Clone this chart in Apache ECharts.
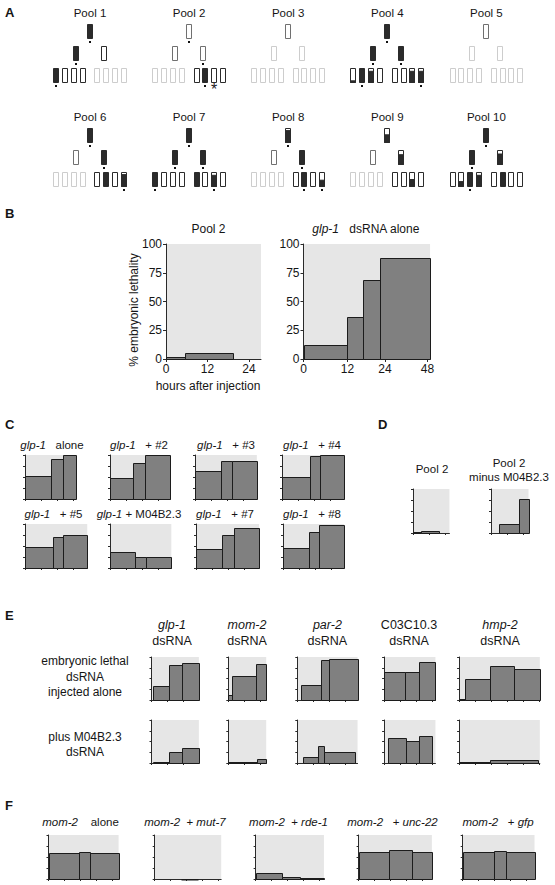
<!DOCTYPE html>
<html><head><meta charset="utf-8">
<script src="https://cdn.jsdelivr.net/npm/echarts@6/dist/echarts.min.js"></script>
<style>html,body{margin:0;padding:0;background:#fff}#c{width:555px;height:885px}</style>
</head><body><div id="c"></div>
<script>
// ---------- Panel A: pedigree of pools (fill fraction per node: -1 faded, -0.5 grey outline, 0..1 filled part)
const poolNames = ['Pool 1','Pool 2','Pool 3','Pool 4','Pool 5','Pool 6','Pool 7','Pool 8','Pool 9','Pool 10'];
const poolFill = [
  [1, 1, 0, 1, 0, 0, 0, -1, -1, -1, -1],
  [-0.5, -0.5, -0.5, -1, -1, -1, -1, 0, 1, 0, 0],
  [-0.5, -1, -1, -1, -1, -1, -1, -1, -1, -1, -1],
  [1, 1, 1, 0.12, 1, 0.8, 0, 0, 0, 0.8, 0.8],
  [-0.5, -1, -1, -1, -1, -1, -1, -1, -1, -1, -1],
  [1, -0.5, 1, -1, -1, -1, -1, 0, 1, 0, 0.85],
  [1, 1, 1, 1, 0, 0, 0, 1, 0, 0.8, 0],
  [0.85, -0.5, 1, -1, -1, -1, -1, 0, 1, 0, 0.45],
  [0.55, -0.5, 0.7, -1, -1, -1, -1, 0, 0, 0.5, 0],
  [1, 1, 0.75, 0, 0.35, 1, 0.8, 0, 1, 0, 0]
];
// 1 = dot below node, 2 = asterisk below node
const poolMark = [
  [1, 1, 0, 1, 0, 0, 0, 0, 0, 0, 0],
  [1, 0, 1, 0, 0, 0, 0, 0, 1, 2, 0],
  [0, 0, 0, 0, 0, 0, 0, 0, 0, 0, 0],
  [1, 1, 1, 0, 1, 0, 0, 0, 0, 0, 1],
  [0, 0, 0, 0, 0, 0, 0, 0, 0, 0, 0],
  [1, 0, 1, 0, 0, 0, 0, 0, 0, 0, 1],
  [1, 1, 1, 1, 0, 0, 0, 0, 0, 1, 0],
  [1, 0, 1, 0, 0, 0, 0, 0, 1, 0, 1],
  [0, 0, 0, 0, 0, 0, 0, 0, 0, 0, 0],
  [1, 1, 0, 0, 0, 1, 0, 0, 0, 0, 0]
];

// ---------- Panel B
const yTickValues = [0, 25, 50, 75, 100];
const bTickHours = [0, 12, 24, 48];
const bPool2Edges = [0, 5.6, 19.4];
const bPool2Vals = [1.7, 5.2];
const bGlp1Edges = [0, 12, 17, 22.5, 49.5];
const bGlp1Vals = [12.4, 36.5, 69, 87.6];

// ---------- Panel C
const cTitles = ['{i|glp-1}   alone', '{i|glp-1}   + #2', '{i|glp-1}   + #3', '{i|glp-1}   + #4',
                 '{i|glp-1}   + #5', '{i|glp-1} + M04B2.3', '{i|glp-1}   + #7', '{i|glp-1}   + #8'];
const cEdges = [
  [0, 19.9, 28.7, 38.0], [0, 17.3, 26.1, 45.3], [0, 19.2, 28.0, 46.5], [0, 21.3, 28.8, 46.6],
  [0, 20.8, 28.5, 46.8], [0, 18.6, 27.4, 46.1], [0, 19.9, 28.4, 47.4], [0, 19.9, 27.1, 45.8]
];
const cVals = [
  [53, 92, 100], [47, 81, 100], [64, 87, 87], [50, 98, 100],
  [48, 71, 76], [36, 24, 24], [43, 76, 92], [46, 81, 98]
];
const cMax = [38.0, 45.3, 46.5, 46.6, 46.8, 46.1, 47.4, 45.8];

// ---------- Panel D
const dTitles = ['Pool 2', 'Pool 2\nminus M04B2.3'];
const dEdges = [[0, 6.1, 19.9], [6.1, 20.8, 28.2]];
const dVals = [[2, 5], [21, 78]];
const dMax = [27.4, 28.2];

// ---------- Panel E
const eGenes = ['{i|glp-1}', '{i|mom-2}', '{i|par-2}', 'C03C10.3', '{i|hmp-2}'];
const eRowLabels = ['embryonic lethal\ndsRNA\ninjected alone', 'plus M04B2.3\ndsRNA'];
const eAloneEdges = [[1.35, 13.3, 23.2, 35.6], [0, 2.7, 20.5, 28.5], [2.7, 18.1, 23.5, 45.3], [0, 15.9, 26.1, 38.6], [0, 4.8, 22.9, 41.5, 60.7]];
const eAloneVals = [[33, 82, 87], [12, 56, 83], [34, 92, 96], [64, 64, 88], [2, 48, 78, 73]];
const ePlusEdges = [[1.35, 13.3, 23.2, 35.6], [0, 21.3, 28.5], [4.1, 15.2, 20.0, 43.4], [3.2, 16.5, 26.6, 35.9], [0, 23.5, 59.3]];
const ePlusVals = [[3, 25, 35], [1.5, 9], [15, 40, 26], [57, 51, 63], [2, 8]];
const eMax = [35.6, 28.5, 45.3, 38.6, 60.7];

// ---------- Panel F
const fTitles = ['{i|mom-2}    alone', '{i|mom-2}  + {i|mut-7}', '{i|mom-2}  + {i|rde-1}', '{i|mom-2}   + {i|unc-22}', '{i|mom-2}   + {i|gfp}'];
const fEdges = [[0, 23.2, 31.1, 52.7], [19.4, 32.7], [0, 19.9, 33.5, 51.4], [0, 22.6, 40.5, 55.1], [0, 23.9, 32.7, 54.0]];
const fVals = [[58, 62, 59], [0.5], [13, 4, 3], [61, 65, 61], [61, 64, 61]];
const fMax = [52.7, 50, 51.4, 55.1, 54.0];

// =====================================================================
const FONT = '"Liberation Sans", Arial, Helvetica, sans-serif';
const INK = '#151515';
const grids = [], xAxes = [], yAxes = [], series = [], graphics = [];

function txt(x, y, text, size, opt) {
  opt = opt || {};
  graphics.push({
    type: 'text', x: x, y: y, rotation: opt.rot || 0, silent: true, z: 10,
    style: {
      text: text, fontSize: size, fontFamily: FONT, fontWeight: opt.bold ? 'bold' : 'normal',
      fill: INK, align: opt.align || 'center', verticalAlign: 'middle',
      textAlign: opt.align || 'center', textVerticalAlign: 'middle',
      lineHeight: opt.lh || Math.round(size * 1.35),
      rich: { i: { fontStyle: 'italic', fontSize: size, fontFamily: FONT, fill: INK } }
    }
  });
}

function ticksUpTo(max, step) { const r = []; for (let v = 0; v <= max + 1e-6; v += step) r.push(v); return r; }

function addHist(o) {
  const gi = grids.length;
  const map = o.map || (v => v);
  grids.push({ left: o.left, top: o.top, width: o.width, height: o.height, show: true,
               backgroundColor: '#e6e6e6', borderWidth: 0 });
  const axisLine = { show: true, onZero: false, lineStyle: { color: '#2a2a2a', width: 1 } };
  xAxes.push({
    type: 'value', gridIndex: gi, min: 0, max: o.max, splitLine: { show: false },
    axisLine: axisLine,
    axisTick: { show: true, length: o.tickLen, customValues: o.xTicks, lineStyle: { color: '#2a2a2a' } },
    axisLabel: o.xLabels ? { show: true, customValues: o.xTicks, formatter: o.xFmt, fontSize: 12,
                             fontFamily: FONT, color: INK, margin: 4 } : { show: false }
  });
  yAxes.push({
    type: 'value', gridIndex: gi, min: 0, max: 100, interval: 25, splitLine: { show: false },
    axisLine: axisLine,
    axisTick: { show: true, length: o.tickLen, customValues: yTickValues, lineStyle: { color: '#2a2a2a' } },
    axisLabel: o.yLabels ? { show: true, customValues: yTickValues, fontSize: 12, fontFamily: FONT,
                             color: INK, margin: 4 } : { show: false }
  });
  const data = o.vals.map((v, i) => [o.edges[i], o.edges[i + 1], v]);
  series.push({
    type: 'custom', xAxisIndex: gi, yAxisIndex: gi, data: data, silent: true, clip: false, z: 3,
    renderItem: function (params, api) {
      const p0 = api.coord([map(api.value(0)), api.value(2)]);
      const p1 = api.coord([map(api.value(1)), 0]);
      const x0 = Math.round(p0[0]), x1 = Math.round(p1[0]);
      const y0 = Math.round(p0[1]), y1 = Math.round(p1[1]);
      return { type: 'rect', shape: { x: x0 + 0.5, y: y0 + 0.5, width: x1 - x0, height: Math.max(y1 - y0, 0.5) },
               style: { fill: '#808080', stroke: '#1c1c1c', lineWidth: 1 } };
    }
  });
}

// ---------- Panel A
(function () {
  const gi = grids.length;
  grids.push({ left: 0, top: 0, width: 555, height: 885, show: false });
  xAxes.push({ type: 'value', gridIndex: gi, min: 0, max: 555, show: false });
  yAxes.push({ type: 'value', gridIndex: gi, min: 0, max: 885, inverse: true, show: false });
  const data = [];
  poolFill.forEach((nodes, p) => nodes.forEach((f, n) => data.push([p, n, f, poolMark[p][n]])));
  series.push({
    type: 'custom', xAxisIndex: gi, yAxisIndex: gi, data: data, silent: true, clip: false,
    renderItem: function (params, api) {
      const p = api.value(0), n = api.value(1), f = api.value(2), mark = api.value(3);
      const col = p % 5, row = Math.floor(p / 5);
      const cx0 = 90 + col * 99.1;
      let cx, top;
      if (n === 0) { cx = cx0; top = 24; }
      else if (n <= 2) { cx = cx0 + (n === 1 ? -14 : 14); top = 45.7; }
      else { const b = n - 3; cx = cx0 + (b < 4 ? -20.6 : 20.6) + ((b % 4) - 1.5) * 8.8; top = 68.3; }
      top += row * 104;
      const a = api.coord([cx - 3, top]);
      const x = Math.round(a[0]) + 0.5, y = Math.round(a[1]) + 0.5, w = 5, h = 14;
      const dark = '#2b2b2b';
      const stroke = f === -1 ? '#cdcdcd' : (f === -0.5 ? '#707070' : dark);
      const children = [{ type: 'rect', shape: { x: x, y: y, width: w, height: h },
                          style: { fill: f >= 1 ? dark : '#fff', stroke: stroke, lineWidth: 1 } }];
      if (f > 0 && f < 1) {
        children.push({ type: 'rect', shape: { x: x, y: y + h * (1 - f), width: w, height: h * f },
                        style: { fill: dark, stroke: dark, lineWidth: 1 } });
      }
      if (mark === 1) {
        children.push({ type: 'rect', shape: { x: Math.round(a[0]) + 2, y: Math.round(a[1]) + h + 3, width: 2, height: 2 },
                        style: { fill: '#111' } });
      } else if (mark === 2) {
        children.push({ type: 'text', style: { text: '*', x: Math.round(a[0]) + 3, y: Math.round(a[1]) + h + 7,
                        fontSize: 16, fontFamily: FONT, fill: '#222', align: 'center', verticalAlign: 'middle' } });
      }
      return { type: 'group', children: children };
    }
  });
  poolNames.forEach((nm, p) => txt(90 + (p % 5) * 99.1, 13 + Math.floor(p / 5) * 103.5, nm, 11.5));
})();

// ---------- Panel labels
txt(5, 12, 'A', 13, { bold: true, align: 'left' });
txt(5, 213, 'B', 13, { bold: true, align: 'left' });
txt(5, 424, 'C', 13, { bold: true, align: 'left' });
txt(378, 424, 'D', 13, { bold: true, align: 'left' });
txt(5, 615, 'E', 13, { bold: true, align: 'left' });
txt(5, 805, 'F', 13, { bold: true, align: 'left' });

// ---------- Panel B
const B_PX_PER_H = 3.46;
addHist({ left: 166, top: 244, width: 95, height: 115, max: 95 / B_PX_PER_H, edges: bPool2Edges, vals: bPool2Vals,
          tickLen: 3, xTicks: [0, 12, 24], xLabels: true, yLabels: true });
const bTickPos = [0, 43.9, 81.4, 123.9];
function bMap(h) {
  for (let i = 1; i < bTickHours.length; i++) {
    if (h <= bTickHours[i] || i === bTickHours.length - 1) {
      const t = (h - bTickHours[i - 1]) / (bTickHours[i] - bTickHours[i - 1]);
      return bTickPos[i - 1] + t * (bTickPos[i] - bTickPos[i - 1]);
    }
  }
}
addHist({ left: 303.5, top: 244, width: bMap(bGlp1Edges[bGlp1Edges.length - 1]), height: 115,
          max: bMap(bGlp1Edges[bGlp1Edges.length - 1]), edges: bGlp1Edges, vals: bGlp1Vals, map: bMap,
          tickLen: 3, xTicks: bTickPos, xLabels: true, yLabels: true,
          xFmt: v => String(bTickHours[bTickPos.findIndex(q => Math.abs(q - v) < 0.5)]) });
txt(208.5, 229, 'Pool 2', 12);
txt(366, 229, '{i|glp-1}   dsRNA alone', 12);
txt(134, 310, '% embryonic lethality', 12, { rot: Math.PI / 2 });
txt(208, 386, 'hours after injection', 12);

// ---------- Panel C
const S_PX_PER_H = 1.33;
const cLeft = [25, 110, 195, 282, 25, 110, 196, 283];
const cTitleX = [52, 139, 226, 312, 53.5, 139, 225, 312];
cTitles.forEach((t, i) => {
  const row = i < 4 ? 0 : 1;
  addHist({ left: cLeft[i], top: row ? 524 : 455, width: cMax[i] * S_PX_PER_H, height: 44, max: cMax[i],
            edges: cEdges[i], vals: cVals[i], tickLen: 2, xTicks: ticksUpTo(cMax[i], 12) });
  txt(cTitleX[i], row ? 513.5 : 445, t, 11.5);
});

// ---------- Panel D
const dLeft = [413, 491];
dTitles.forEach((t, i) => {
  addHist({ left: dLeft[i], top: 489, width: dMax[i] * S_PX_PER_H, height: 44, max: dMax[i],
            edges: dEdges[i], vals: dVals[i], tickLen: 2, xTicks: ticksUpTo(dMax[i], 12) });
});
txt(432, 468.5, dTitles[0], 11.5);
txt(509, 470, dTitles[1], 11.5, { lh: 13.5 });

// ---------- Panel E
const eLeft = [151.5, 228.3, 297.3, 384.1, 459.1];
const eHeadX = [172, 247, 327.4, 409, 500];
eGenes.forEach((g, i) => {
  const w = eMax[i] * S_PX_PER_H;
  addHist({ left: eLeft[i], top: 657, width: w, height: 43, max: eMax[i], edges: eAloneEdges[i], vals: eAloneVals[i],
            tickLen: 2, xTicks: ticksUpTo(eMax[i], 12) });
  addHist({ left: eLeft[i], top: 720, width: w, height: 43, max: eMax[i], edges: ePlusEdges[i], vals: ePlusVals[i],
            tickLen: 2, xTicks: ticksUpTo(eMax[i], 12) });
  txt(eHeadX[i], 633, g + '\ndsRNA', 12.5, { lh: 15.7 });
});
txt(85, 676.7, eRowLabels[0], 12, { lh: 15.7 });
txt(85, 744.5, eRowLabels[1], 12, { lh: 15.7 });

// ---------- Panel F
const fLeft = [48.5, 154.7, 255.6, 358.6, 462.7];
const fTitleX = [80.5, 185, 288.5, 392.5, 498];
fTitles.forEach((t, i) => {
  addHist({ left: fLeft[i], top: 835, width: fMax[i] * S_PX_PER_H, height: 44, max: fMax[i],
            edges: fEdges[i], vals: fVals[i], tickLen: 2, xTicks: ticksUpTo(fMax[i], 12) });
  txt(fTitleX[i], 822.3, t, 11.5);
});

const chart = echarts.init(document.getElementById('c'), null, { renderer: 'svg', width: 555, height: 885 });
chart.setOption({
  animation: false,
  backgroundColor: '#fff',
  grid: grids, xAxis: xAxes, yAxis: yAxes, series: series,
  graphic: { elements: graphics }
});
</script>
</body></html>
